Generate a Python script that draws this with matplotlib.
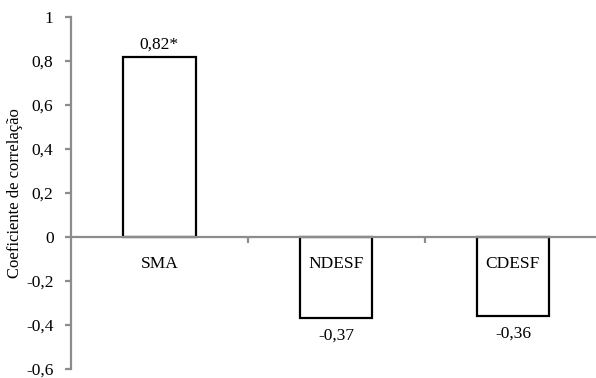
import matplotlib.pyplot as plt
import numpy as np

# dados
categorias = ["SMA", "NDESF", "CDESF"]
valores = [0.82, -0.37, -0.36]
rotulos = ["0,82*", "-0,37", "-0,36"]
yticks = [-0.6, -0.4, -0.2, 0, 0.2, 0.4, 0.6, 0.8, 1]

plt.rcParams['font.family'] = ['Liberation Serif', 'DejaVu Serif']

fig = plt.figure(figsize=(5.96, 3.78), dpi=100)
ax = fig.add_axes([71 / 596, 9 / 378, 1 - 71 / 596, 1 - 26 / 378])

x = np.arange(len(categorias))
cinza = "#8c8c8c"

ax.bar(x, valores, width=0.41, color="white", edgecolor="black",
       linewidth=1.6, zorder=1)

# rótulos de dados
for xi, v, r in zip(x, valores, rotulos):
    if v >= 0:
        ax.annotate(r, (xi, v), xytext=(0, 3), textcoords="offset points",
                    ha="center", va="bottom", fontsize=12.5)
    else:
        ax.annotate(r, (xi, v), xytext=(0, -7), textcoords="offset points",
                    ha="center", va="top", fontsize=12.5)

ax.set_xlim(-0.5, 2.47)
ax.set_ylim(-0.6, 1)
ax.set_yticks(yticks)
ax.set_yticklabels([("%g" % t).replace(".", ",") for t in yticks],
                   fontsize=12.5)

# eixo x na linha zero
ax.spines["bottom"].set_position(("data", 0))
ax.spines["bottom"].set_color(cinza)
ax.spines["bottom"].set_linewidth(1.6)
ax.spines["bottom"].set_zorder(3)
ax.spines["left"].set_color(cinza)
ax.spines["left"].set_linewidth(1.6)
ax.spines["top"].set_visible(False)
ax.spines["right"].set_visible(False)

# ticks nas divisões das categorias, rótulos no centro
ax.set_xticks([0.5, 1.5])
ax.set_xticklabels([])
ax.set_xticks(x, minor=True)
ax.set_xticklabels(categorias, minor=True, fontsize=12.5)
ax.tick_params(axis="x", which="major", direction="out", length=4,
               width=1.6, color=cinza)
ax.tick_params(axis="x", which="minor", length=0, pad=14)
ax.tick_params(axis="y", direction="out", length=4.6, width=1.6, color=cinza,
               pad=8)

ax.set_ylabel("Coeficiente de correlação", fontsize=12, labelpad=2)

plt.savefig("out.png", dpi=100)
